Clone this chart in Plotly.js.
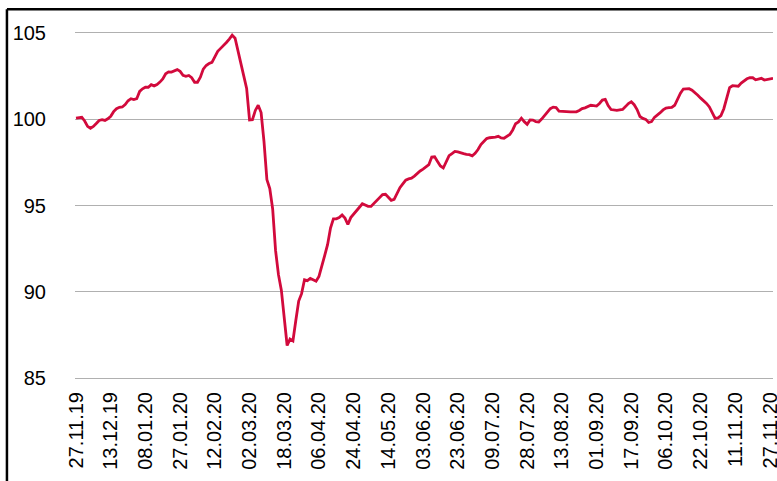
<!DOCTYPE html>
<html>
<head>
<meta charset="utf-8">
<script src="https://cdn.plot.ly/plotly-3.0.1.min.js"></script>
<style>
html,body{margin:0;padding:0;background:#fff;overflow:hidden;}
#chart{width:777px;height:481px;}
</style>
</head>
<body>
<div id="chart"></div>
<script>
// Tick labels (one every 12 points on a trading-day index axis)
const tickLabels = ["27.11.19","13.12.19","08.01.20","27.01.20","12.02.20","02.03.20","18.03.20","06.04.20","24.04.20","14.05.20","03.06.20","23.06.20","09.07.20","28.07.20","13.08.20","01.09.20","17.09.20","06.10.20","22.10.20","11.11.20","27.11.20"];
const tickStep = 12;

// Index values, one per point
const values = [
100.05,100.08,100.1,99.89,99.58,99.47,99.57,99.74,99.92,99.96,
99.92,100.02,100.16,100.43,100.6,100.68,100.7,100.84,101.06,101.18,
101.13,101.18,101.6,101.75,101.84,101.84,101.99,101.92,102.0,102.14,
102.32,102.62,102.73,102.72,102.8,102.86,102.76,102.53,102.47,102.52,
102.39,102.13,102.13,102.42,102.89,103.1,103.21,103.28,103.6,103.92,
104.09,104.24,104.43,104.63,104.85,104.68,104.0,103.25,102.5,101.77,
99.95,99.96,100.5,100.8,100.38,98.7,96.5,95.98,94.8,92.4,
91.0,90.1,88.6,86.9,87.27,87.17,88.35,89.47,89.9,90.7,
90.65,90.78,90.7,90.62,90.9,91.6,92.12,92.75,93.7,94.23,
94.23,94.3,94.45,94.27,93.9,94.3,94.52,94.68,94.9,95.1,
95.03,94.95,94.95,95.12,95.3,95.47,95.63,95.65,95.5,95.3,
95.35,95.68,96.03,96.25,96.47,96.54,96.58,96.7,96.86,97.0,
97.1,97.24,97.36,97.8,97.82,97.55,97.29,97.17,97.55,97.88,
98.0,98.13,98.1,98.03,98.0,97.96,97.94,97.87,98.02,98.24,
98.53,98.7,98.87,98.92,98.92,98.96,99.0,98.91,98.89,99.0,
99.11,99.37,99.73,99.84,100.05,99.85,99.7,99.95,99.94,99.85,
99.83,100.0,100.2,100.43,100.6,100.69,100.66,100.46,100.44,100.42,
100.42,100.42,100.42,100.42,100.5,100.61,100.65,100.74,100.8,100.78,
100.75,100.9,101.1,101.14,100.78,100.55,100.53,100.5,100.53,100.56,
100.72,100.9,101.0,100.83,100.55,100.15,100.04,99.98,99.8,99.85,
100.1,100.21,100.37,100.53,100.64,100.66,100.68,100.8,101.18,101.5,
101.74,101.77,101.76,101.67,101.55,101.38,101.21,101.07,100.91,100.7,
100.35,100.04,100.07,100.2,100.6,101.3,101.82,101.93,101.92,101.9,
102.08,102.2,102.33,102.39,102.39,102.27,102.3,102.36,102.26,102.28,
102.33,102.36
];
const yTicks = [85, 90, 95, 100, 105];

const xIdx = values.map((v, i) => i);
const tickVals = tickLabels.map((t, j) => j * tickStep);

const font = {family: '"Liberation Sans", Arial, Helvetica, sans-serif', size: 20, color: '#000'};

const trace = {
  x: xIdx, y: values, type: 'scatter', mode: 'lines',
  line: {color: '#d20a3c', width: 2.8, shape: 'linear'},
  hoverinfo: 'skip'
};

const layout = {
  width: 777, height: 481,
  margin: {l: 75, r: 4, t: 24, b: 94, pad: 0},
  paper_bgcolor: '#fff', plot_bgcolor: '#fff',
  showlegend: false,
  font: font,
  xaxis: {
    range: [-0.35, 241.0],
    tickmode: 'array', tickvals: tickVals, ticktext: tickLabels,
    tickangle: -90, tickfont: font,
    ticklabeloverflow: 'allow',
    showgrid: false, zeroline: false, showline: false, ticks: '',
    fixedrange: true
  },
  yaxis: {
    range: [84.5, 105.5],
    tickmode: 'array', tickvals: yTicks,
    tickfont: font,
    showgrid: true, gridcolor: '#b0b0b0', gridwidth: 1,
    zeroline: false, showline: false, ticks: '',
    ticklabelstandoff: 28,
    fixedrange: true
  },
  shapes: [
    {type: 'line', xref: 'paper', yref: 'paper', x0: -0.0975, x1: 1.2, y0: 1.0405, y1: 1.0405, line: {color: '#000', width: 2.5}},
    {type: 'line', xref: 'paper', yref: 'paper', x0: -0.0975, x1: -0.0975, y0: -0.5, y1: 1.0405, line: {color: '#000', width: 2.5}}
  ]
};

Plotly.newPlot('chart', [trace], layout, {displayModeBar: false, staticPlot: true});
</script>
</body>
</html>
